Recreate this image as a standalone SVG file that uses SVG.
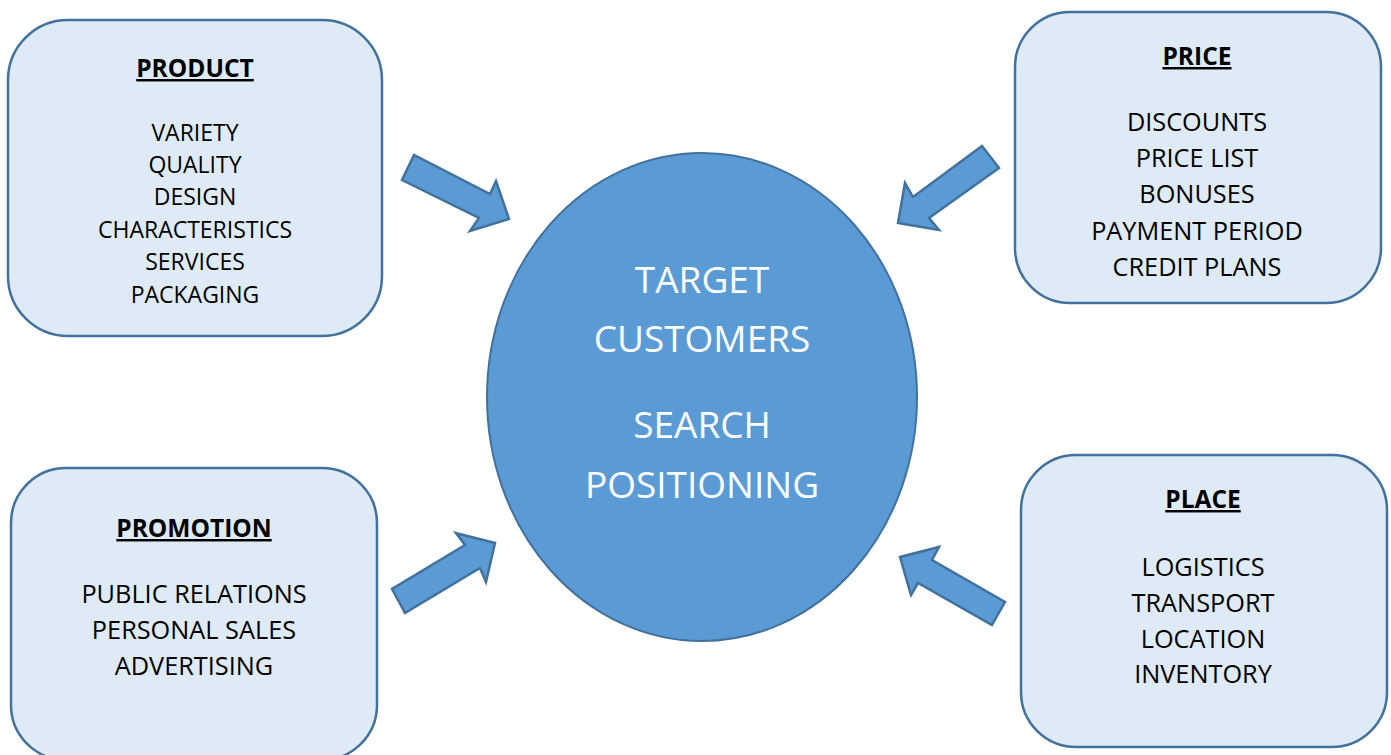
<svg xmlns="http://www.w3.org/2000/svg" width="1391" height="755" viewBox="0 0 1391 755">
<style>
.box{fill:#DEEAF6;stroke:#41719C;stroke-width:2.5}
.ell{fill:#5B9BD5;stroke:#41719C;stroke-width:2}
.arr{fill:#5B9BD5;stroke:#41719C;stroke-width:2.5;stroke-linejoin:miter}
text{font-family:"Open Sans","Noto Sans","Liberation Sans",sans-serif;text-anchor:middle;fill:#000}
.t{font-weight:bold;font-size:24.5px;text-decoration:underline}
.s{font-size:23px}
.m{font-size:25.3px}
.c{font-size:37px;fill:#fff}
</style>
<rect width="1391" height="755" fill="#fff"/>
<g id="product">
<rect class="box" x="8" y="20" width="374" height="316" rx="60" ry="60"/>
<text class="t" x="195" y="77">PRODUCT</text>
<text class="s" x="195" y="141">VARIETY</text>
<text class="s" x="195" y="173">QUALITY</text>
<text class="s" x="195" y="205">DESIGN</text>
<text class="s" x="195" y="238">CHARACTERISTICS</text>
<text class="s" x="195" y="270">SERVICES</text>
<text class="s" x="195" y="303">PACKAGING</text>
</g>
<g id="price">
<rect class="box" x="1015" y="12" width="366" height="291" rx="55" ry="55"/>
<text class="t" x="1197" y="65">PRICE</text>
<text class="m" x="1197" y="131">DISCOUNTS</text>
<text class="m" x="1197" y="167">PRICE LIST</text>
<text class="m" x="1197" y="203">BONUSES</text>
<text class="m" x="1197" y="240">PAYMENT PERIOD</text>
<text class="m" x="1197" y="276">CREDIT PLANS</text>
</g>
<g id="promotion">
<rect class="box" x="11" y="468" width="366" height="292" rx="55" ry="55"/>
<text class="t" x="194" y="537">PROMOTION</text>
<text class="m" x="194" y="603">PUBLIC RELATIONS</text>
<text class="m" x="194" y="639">PERSONAL SALES</text>
<text class="m" x="194" y="675">ADVERTISING</text>
</g>
<g id="place">
<rect class="box" x="1021" y="455" width="366" height="292" rx="55" ry="55"/>
<text class="t" x="1203" y="508">PLACE</text>
<text class="m" x="1203" y="576">LOGISTICS</text>
<text class="m" x="1203" y="612">TRANSPORT</text>
<text class="m" x="1203" y="648">LOCATION</text>
<text class="m" x="1203" y="683">INVENTORY</text>
</g>
<g id="center">
<ellipse class="ell" cx="702" cy="397" rx="215" ry="244"/>
<text class="c" x="702" y="293">TARGET</text>
<text class="c" x="702" y="352">CUSTOMERS</text>
<text class="c" x="702" y="438">SEARCH</text>
<text class="c" x="702" y="498">POSITIONING</text>
</g>
<g id="connectors">
<polygon class="arr" points="414,155 402,180 479,218 470,231 509,219 496,181 490,194"/>
<polygon class="arr" points="982,146 999,168 929,218 939,230 898,223 905,183 913,197"/>
<polygon class="arr" points="405,613 392,589 465,545 456,533 495,543 486,582 480,568"/>
<polygon class="arr" points="992,625 1005,602 932,560 939,547 900,557 911,595 918,583"/>
</g>
</svg>
